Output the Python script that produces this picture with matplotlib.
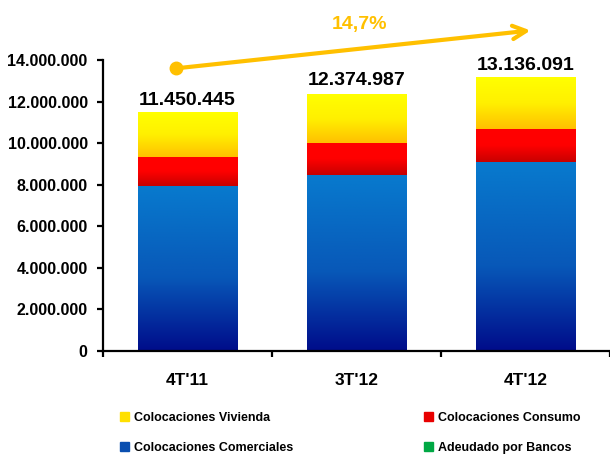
import numpy as np
import matplotlib
matplotlib.use("Agg")
import matplotlib.pyplot as plt
from matplotlib.colors import LinearSegmentedColormap
from matplotlib.patches import Rectangle

plt.rcParams["font.family"] = ["Liberation Sans", "DejaVu Sans"]
plt.rcParams["font.weight"] = "bold"

categories = ["4T'11", "3T'12", "4T'12"]
comerciales = [7_920_000, 8_460_000, 9_090_000]
consumo = [1_400_000, 1_570_000, 1_590_000]
vivienda = [2_130_000, 2_345_000, 2_456_000]
adeudado = [0, 0, 0]
totals = [11_450_445, 12_374_987, 13_136_091]
growth_label = "14,7%"

ORANGE = "#FFC000"

# bottom -> top colour stops for each segment gradient
grad_blue = LinearSegmentedColormap.from_list(
    "blue", [(0.0, "#000C8A"), (0.45, "#0858B8"), (1.0, "#087ACE")])
grad_red = LinearSegmentedColormap.from_list("red", ["#C80000", "#FF0000", "#FF0000"])
grad_yel = LinearSegmentedColormap.from_list("yel", ["#FFC000", "#FFF000", "#FFFF00"])
grad_green = LinearSegmentedColormap.from_list("grn", ["#008A30", "#00B050"])


def fmt(v):
    return f"{v:,.0f}".replace(",", ".")


fig = plt.figure(figsize=(6.1, 4.55), dpi=100)
ax = fig.add_axes([103 / 610, 104 / 455, 1 - 103 / 610, 291 / 455])

x = np.arange(len(categories))
width = 0.59
series = [
    (comerciales, grad_blue, "Colocaciones Comerciales"),
    (consumo, grad_red, "Colocaciones Consumo"),
    (vivienda, grad_yel, "Colocaciones Vivienda"),
    (adeudado, grad_green, "Adeudado por Bancos"),
]

grad = np.linspace(0, 1, 256).reshape(-1, 1)
bottom = np.zeros(len(categories))
for vals, cmap, name in series:
    bars = ax.bar(x, vals, width, bottom=bottom, facecolor="none", edgecolor="none")
    for b in bars:
        bx, by = b.get_x(), b.get_y()
        bw, bh = b.get_width(), b.get_height()
        if bh <= 0:
            continue
        ax.imshow(grad, extent=[bx, bx + bw, by, by + bh], origin="lower",
                  aspect="auto", cmap=cmap, zorder=2, interpolation="bicubic")
    bottom += np.array(vals)

for xi, t in zip(x, totals):
    ax.annotate(fmt(t), (xi, t), xytext=(0, 6), textcoords="offset points",
                ha="center", va="baseline", fontsize=14, fontweight="bold")

# growth arrow
ax.plot([-0.066], [13_600_000], "o", color=ORANGE, markersize=9, clip_on=False, zorder=5)
ax.annotate("", xy=(2.03, 15_420_000), xytext=(-0.066, 13_600_000),
            arrowprops=dict(arrowstyle="->", color=ORANGE, lw=3, shrinkA=0, shrinkB=0,
                            mutation_scale=24),
            annotation_clip=False)
ax.text(1.02, 15_730_000, growth_label, color=ORANGE, fontsize=14, fontweight="bold",
        ha="center", va="center", clip_on=False)

ax.set_xlim(-0.5, 2.5 - 3 / 170)
ax.set_ylim(0, 14_000_000)
ax.set_yticks(np.arange(0, 14_000_001, 2_000_000))
ax.set_yticklabels([fmt(v) for v in np.arange(0, 14_000_001, 2_000_000)])
ax.set_xticks(x)
ax.set_xticklabels(categories)
ax.set_xticks([-0.5, 0.5, 1.5, 2.5], minor=True)

for s in ["top", "right"]:
    ax.spines[s].set_visible(False)
for s in ["left", "bottom"]:
    ax.spines[s].set_linewidth(1.6)
    ax.spines[s].set_color("black")

ax.tick_params(axis="y", length=4, width=1.6, pad=7, labelsize=11.5)
ax.tick_params(axis="x", which="major", length=0, pad=16, labelsize=12.5)
ax.tick_params(axis="x", which="minor", length=4, width=1.6, direction="out")

leg_kw = dict(frameon=False, fontsize=9, handlelength=0.75, handleheight=0.75,
              handletextpad=0.35, labelspacing=1.4, borderpad=0, borderaxespad=0,
              loc="center left")
left_col = fig.legend(
    [Rectangle((0, 0), 1, 1, color="#FFE000"), Rectangle((0, 0), 1, 1, color="#0A4FB0")],
    ["Colocaciones Vivienda", "Colocaciones Comerciales"],
    bbox_to_anchor=(120 / 610, 22 / 455), **leg_kw)
right_col = fig.legend(
    [Rectangle((0, 0), 1, 1, color="#E80000"), Rectangle((0, 0), 1, 1, color="#00A844")],
    ["Colocaciones Consumo", "Adeudado por Bancos"],
    bbox_to_anchor=(424 / 610, 22 / 455), **leg_kw)

fig.savefig("out.png", dpi=100)
